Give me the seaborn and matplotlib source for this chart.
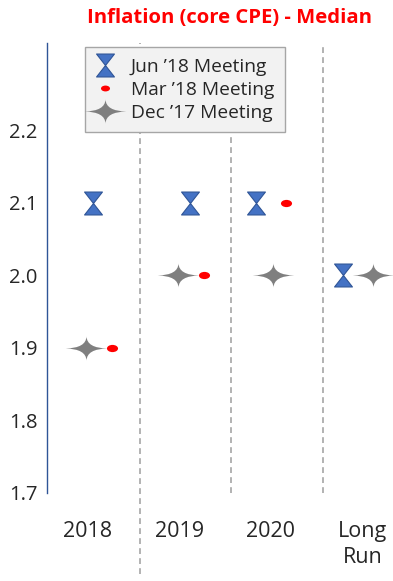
import numpy as np
import matplotlib
matplotlib.use("Agg")
import matplotlib.pyplot as plt
from matplotlib.path import Path
from matplotlib.lines import Line2D
import seaborn as sns

# ---- data -------------------------------------------------------------
categories = ["2018", "2019", "2020", "Long\nRun"]
jun18 = [2.1, 2.1, 2.1, 2.0]
mar18 = [1.9, 2.0, 2.1, np.nan]
dec17 = [1.9, 2.0, 2.0, 2.0]
series_names = ["Jun \u201918 Meeting", "Mar \u201918 Meeting", "Dec \u201917 Meeting"]
y_ticks = [1.7, 1.8, 1.9, 2.0, 2.1, 2.2]

# ---- layout: horizontal nudges of each series inside a category --------
jun_shift = [-0.01, 0.05, -0.23, -0.28]
mar_shift = [0.19, 0.20, 0.10, 0.0]
dec_shift = [-0.09, -0.08, -0.05, 0.05]

# ---- marker shapes -----------------------------------------------------
def hourglass():
    w, h = 0.39, 0.5
    verts = [(-w, h), (w, h), (0, 0), (w, -h), (-w, -h), (0, 0), (-w, h)]
    codes = [Path.MOVETO] + [Path.LINETO] * 5 + [Path.CLOSEPOLY]
    return Path(verts, codes)

def four_point_star():
    v, c = 0.58, 0.02
    tips = [(1, 0), (0, v), (-1, 0), (0, -v)]
    ctrls = [(c, c), (-c, c), (-c, -c), (c, -c)]
    verts = [tips[0]]
    codes = [Path.MOVETO]
    for i in range(4):
        verts += [ctrls[i], tips[(i + 1) % 4]]
        codes += [Path.CURVE3, Path.CURVE3]
    verts.append(tips[0])
    codes.append(Path.CLOSEPOLY)
    return Path(verts, codes)

def flat_dot():
    circ = Path.unit_circle()
    return Path(circ.vertices * np.array([1.0, 0.65]), circ.codes)

HOUR, STAR, DOT = hourglass(), four_point_star(), flat_dot()
BLUE, BLUE_EDGE, GREY, RED = "#4472C4", "#2F5597", "#7F7F7F", "#FF0000"

# ---- figure ------------------------------------------------------------
sns.set_theme(style="white")
plt.rcParams["font.family"] = ["Open Sans", "DejaVu Sans"]

fig = plt.figure(figsize=(3.93, 5.81), dpi=100)
ax = fig.add_axes([0.1196, 0.1515, 0.8804, 0.7745])

pos = np.arange(len(categories))

sns.scatterplot(x=pos + np.array(dec_shift), y=dec17, marker=STAR, s=30 ** 2,
                color=GREY, edgecolor=GREY, linewidth=0, ax=ax, zorder=3)
sns.scatterplot(x=pos + np.array(mar_shift), y=mar18, marker=DOT, s=8 ** 2,
                color=RED, edgecolor=RED, linewidth=0, ax=ax, zorder=4)
sns.scatterplot(x=pos + np.array(jun_shift), y=jun18, marker=HOUR, s=16.5 ** 2,
                color=BLUE, edgecolor=BLUE_EDGE, linewidth=0.8, ax=ax, zorder=5)

# category separators
for i, sep in enumerate(pos[:-1] + 0.5):
    ax.axvline(sep, ymin=-0.18 if i == 0 else 0.0, ymax=1.0, color="#A6A6A6",
               lw=1.2, ls=(0, (3.5, 2.5)), clip_on=False, zorder=1)

ax.set_xlim(-0.516, 3.265)
ax.set_ylim(1.7, 2.32)
ax.set_yticks(y_ticks)
ax.set_yticklabels([f"{t:.1f}" for t in y_ticks])
ax.set_xticks(pos - 0.07)
ax.set_xticklabels(categories, linespacing=1.35)
ax.tick_params(axis="y", length=0, pad=7, labelsize=14.5, labelcolor="#262626")
ax.tick_params(axis="x", length=0, pad=20, labelsize=15.5, labelcolor="#262626")
for t in ax.get_xticklabels():
    t.set_horizontalalignment("center")

for side in ["top", "right", "bottom"]:
    ax.spines[side].set_visible(False)
ax.spines["left"].set_color(BLUE_EDGE)
ax.spines["left"].set_linewidth(1.0)
ax.set_xlabel("")
ax.set_ylabel("")

handles = [
    Line2D([], [], ls="none", marker=HOUR, markersize=16.5, markerfacecolor=BLUE,
           markeredgecolor=BLUE_EDGE, markeredgewidth=0.8),
    Line2D([], [], ls="none", marker=DOT, markersize=6.5, markerfacecolor=RED,
           markeredgewidth=0),
    Line2D([], [], ls="none", marker=STAR, markersize=30, markerfacecolor=GREY,
           markeredgewidth=0),
]
leg = ax.legend(handles, series_names, loc="upper left", bbox_to_anchor=(0.11, 0.99),
                borderaxespad=0, frameon=True, fancybox=False, framealpha=1,
                facecolor="#F2F2F2", edgecolor="#A6A6A6", fontsize=13.8,
                handlelength=1.0, handletextpad=0.85, labelspacing=0.25,
                borderpad=0.55)
leg.get_frame().set_linewidth(1.0)
for t in leg.get_texts():
    t.set_color("#262626")

fig.text(0.583, 0.969, "Inflation (core CPE) - Median", color=RED,
         fontsize=14.6, fontweight="bold", ha="center", va="center")

fig.savefig("out.png", dpi=100)
